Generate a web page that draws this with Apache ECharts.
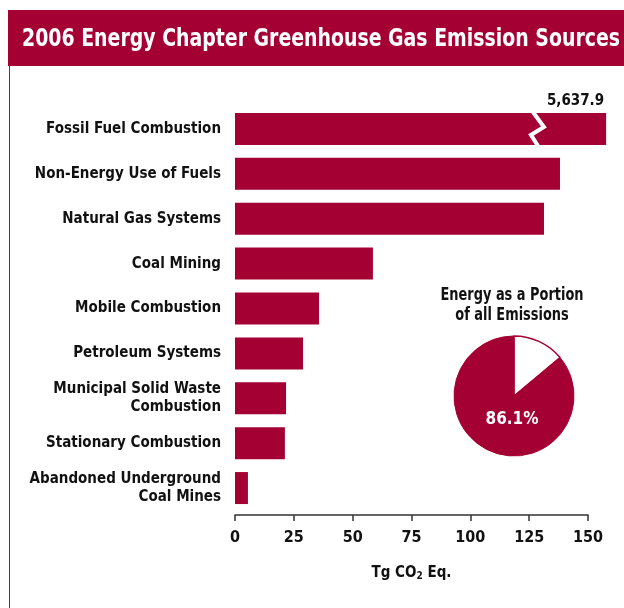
<!DOCTYPE html>
<html>
<head>
<meta charset="utf-8">
<script src="https://cdn.jsdelivr.net/npm/echarts@6/dist/echarts.min.js"></script>
<style>
html,body{margin:0;padding:0;background:#fff;}
#chart{width:624px;height:608px;}
</style>
</head>
<body>
<div id="chart"></div>
<script>
// ---- data ----
const categories = [
  'Fossil Fuel Combustion',
  'Non-Energy Use of Fuels',
  'Natural Gas Systems',
  'Coal Mining',
  'Mobile Combustion',
  'Petroleum Systems',
  'Municipal Solid Waste\nCombustion',
  'Stationary Combustion',
  'Abandoned Underground\nCoal Mines'
];
// plotted lengths (Fossil Fuel Combustion bar is broken; true value below)
const values = [157.7, 138.1, 131.3, 58.6, 35.7, 28.9, 21.7, 21.2, 5.5];
const brokenBarActual = 5637.9;
const brokenBarLabel = '5,637.9';
const xTicks = [0, 25, 50, 75, 100, 125, 150];
const pieTitleLines = ['Energy as a Portion', 'of all Emissions'];
const pieData = [
  { name: 'Other', value: 13.9 },
  { name: 'Energy', value: 86.1 }
];
const titleText = '2006 Energy Chapter Greenhouse Gas Emission Sources';

const RED = '#A50034';
const FONT = "'Liberation Sans Narrow', 'DejaVu Sans Condensed', 'Arial Narrow', sans-serif";

// width helper to condense text horizontally like the reference's condensed face
const ctx = document.createElement('canvas').getContext('2d');
function textWidth(t, size) { ctx.font = 'bold ' + size + 'px ' + FONT; return ctx.measureText(t).width; }
const titleScale = 598 / textWidth(titleText, 25);
const pieTitleScale = 143 / textWidth(pieTitleLines[0], 17);

const chart = echarts.init(document.getElementById('chart'));

const baseGraphic = [
  { type: 'rect', z: -1, shape: { x: 8, y: 10, width: 616, height: 56 }, style: { fill: RED } },
  { type: 'line', shape: { x1: 9.5, y1: 66, x2: 9.5, y2: 608 }, style: { stroke: '#444', lineWidth: 1 } },
  { type: 'text', x: 22, y: 39, scaleX: titleScale, z: 10,
    style: { x: 0, y: 0, text: titleText, fill: '#fff', font: 'bold 25px ' + FONT, verticalAlign: 'middle', align: 'left' } },
  { type: 'text', x: 512, y: 306, scaleX: pieTitleScale, z: 10,
    style: { x: 0, y: 0, text: pieTitleLines.join('\n'), fill: '#111', font: 'bold 17px ' + FONT,
      lineHeight: 20, verticalAlign: 'middle', align: 'center' } }
];

const option = {
  backgroundColor: '#fff',
  animation: false,
  textStyle: { fontFamily: FONT },
  grid: { left: 235, right: 36, top: 106.5, bottom: 97.5, containLabel: false },
  xAxis: {
    type: 'value',
    min: 0, max: 150, interval: 25,
    offset: 4.5,
    splitLine: { show: false },
    axisLine: { show: true, lineStyle: { color: '#333', width: 1.5 } },
    axisTick: { show: true, length: 6, lineStyle: { color: '#333', width: 1.5 } },
    axisLabel: {
      margin: 15, color: '#111', fontSize: 16, fontWeight: 'bold', fontFamily: FONT,
      formatter: v => xTicks.includes(v) ? String(v) : ''
    },
    name: '{a|Tg CO}{s|2}{a| Eq.}',
    nameLocation: 'middle',
    nameGap: 50,
    nameTextStyle: {
      rich: {
        a: { fontSize: 15, fontWeight: 'bold', color: '#111', fontFamily: FONT },
        s: { fontSize: 10, fontWeight: 'bold', color: '#111', fontFamily: FONT, verticalAlign: 'bottom', padding: [6, 0, 0, 0] }
      }
    }
  },
  yAxis: {
    type: 'category',
    inverse: true,
    data: categories,
    axisLine: { show: false },
    axisTick: { show: false },
    axisLabel: {
      margin: 14, color: '#111', fontSize: 15, fontWeight: 'bold', fontFamily: FONT,
      align: 'right', lineHeight: 18
    }
  },
  series: [
    {
      type: 'bar',
      data: values.map((v, i) => i === 0
        ? { value: v, label: { show: true, position: 'insideTopRight', offset: [3, -24],
            formatter: brokenBarLabel, color: '#111', fontSize: 15, fontWeight: 'bold', fontFamily: FONT } }
        : v),
      barWidth: 32,
      clip: false,
      itemStyle: { color: RED },
      silent: true
    },
    {
      type: 'pie',
      center: [514, 396],
      radius: 60,
      startAngle: 90,
      clockwise: true,
      silent: true,
      data: [
        { name: pieData[0].name, value: pieData[0].value,
          itemStyle: { color: '#fff', borderColor: RED, borderWidth: 1.5 },
          label: { show: false } },
        { name: pieData[1].name, value: pieData[1].value,
          itemStyle: { color: RED, borderColor: RED, borderWidth: 1 },
          label: { show: true, position: 'inside', formatter: '{c}%', color: '#fff',
            fontSize: 17, fontWeight: 'bold', fontFamily: FONT, offset: [12, -6] } }
      ],
      labelLine: { show: false }
    }
  ],
  graphic: baseGraphic
};

chart.setOption(option);

// break mark on the Fossil Fuel Combustion bar, placed through the axes
const bp = chart.convertToPixel({ gridIndex: 0 }, [128.3, 0]);
chart.setOption({
  graphic: baseGraphic.concat([
    {
      type: 'polyline', z: 100,
      shape: { points: [[bp[0] - 4, bp[1] - 17], [bp[0] + 7, bp[1] - 2], [bp[0] - 6, bp[1] + 6], [bp[0] + 1, bp[1] + 17]] },
      style: { stroke: '#fff', lineWidth: 4, fill: null, lineJoin: 'miter' }
    }
  ])
});
</script>
</body>
</html>
